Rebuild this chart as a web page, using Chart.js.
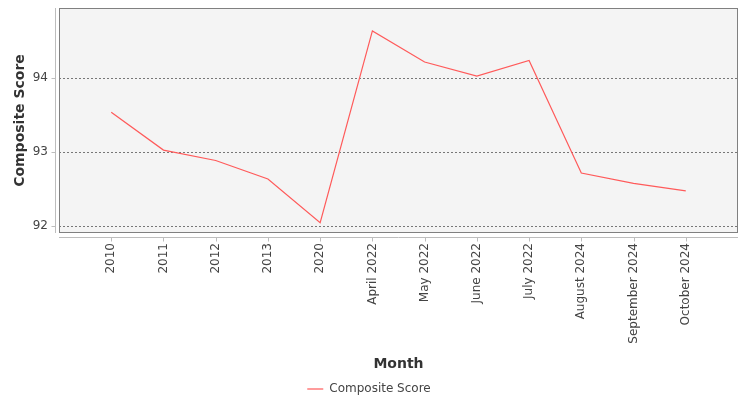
<!DOCTYPE html>
<html>
<head>
<meta charset="utf-8">
<script src="https://cdn.jsdelivr.net/npm/chart.js@4/dist/chart.umd.min.js"></script>
<style>
    html, body { margin: 0; padding: 0; background: #fff; }
    #wrap { width: 750px; height: 400px; }
</style>
</head>
<body>
<div id="wrap"><canvas id="chart"></canvas></div>
<script>
(function () {
    var months = ['2010', '2011', '2012', '2013', '2020', 'April 2022', 'May 2022', 'June 2022',
        'July 2022', 'August 2024', 'September 2024', 'October 2024'];
    var scores = [93.54, 93.03, 92.89, 92.64, 92.05, 94.64, 94.22, 94.03, 94.24, 92.72, 92.58, 92.48];
    var yTicks = [92, 93, 94];

    var fontFamily = "'DejaVu Sans', sans-serif";
    var lineColor = '#ff5a5a';
    var axisColor = '#bdbdbd';
    var plotBottom = 233;
    var bottomPad = -5;

    Chart.defaults.font.family = fontFamily;
    Chart.defaults.color = '#444';

    // plot background, frame and the detached axis lines
    var framePlugin = {
        id: 'frame',
        beforeDraw: function (chart) {
            var a = chart.chartArea;
            var ctx = chart.ctx;
            ctx.save();
            ctx.fillStyle = '#f4f4f4';
            ctx.fillRect(a.left, a.top, a.right - a.left, a.bottom - a.top);
            ctx.restore();
        },
        afterDraw: function (chart) {
            var a = chart.chartArea;
            var ctx = chart.ctx;
            var x = chart.scales.x;
            var y = chart.scales.y;
            ctx.save();
            ctx.lineWidth = 1;
            ctx.strokeStyle = '#808080';
            ctx.strokeRect(a.left + 0.5, a.top + 0.5, a.right - a.left - 1, a.bottom - a.top - 1);

            ctx.strokeStyle = axisColor;
            var ax = Math.round(a.bottom + 4) + 0.5;
            ctx.beginPath();
            ctx.moveTo(a.left, ax);
            ctx.lineTo(a.right, ax);
            months.forEach(function (m, i) {
                var px = Math.round(x.getPixelForValue(i)) + 0.5;
                ctx.moveTo(px, ax);
                ctx.lineTo(px, ax + 4);
            });
            var ay = Math.round(a.left - 4) + 0.5;
            ctx.moveTo(ay, a.top);
            ctx.lineTo(ay, a.bottom);
            yTicks.forEach(function (v) {
                var py = Math.round(y.getPixelForValue(v)) + 0.5;
                ctx.moveTo(ay, py);
                ctx.lineTo(ay - 4, py);
            });
            ctx.stroke();
            ctx.restore();
        }
    };

    new Chart(document.getElementById('chart'), {
        type: 'line',
        data: {
            datasets: [{
                label: 'Composite Score',
                data: scores.map(function (v, i) { return { x: i, y: v }; }),
                borderColor: lineColor,
                backgroundColor: lineColor,
                borderWidth: 1.2,
                pointRadius: 0,
                tension: 0
            }]
        },
        options: {
            responsive: true,
            maintainAspectRatio: false,
            animation: false,
            layout: { padding: { top: 8, right: 12, bottom: bottomPad, left: 0 } },
            plugins: {
                tooltip: { enabled: false },
                legend: {
                    position: 'bottom',
                    labels: {
                        usePointStyle: true,
                        pointStyle: 'line',
                        pointStyleWidth: 16,
                        boxWidth: 16,
                        color: '#444',
                        font: { size: 12 },
                        padding: 5
                    }
                }
            },
            scales: {
                x: {
                    type: 'linear',
                    min: -1,
                    max: 12,
                    afterBuildTicks: function (axis) {
                        axis.ticks = months.map(function (m, i) { return { value: i }; });
                    },
                    afterFit: function (scale) {
                        scale.height = scale.chart.height - bottomPad - scale.chart.legend.height - plotBottom;
                        scale.paddingLeft = 0;
                        scale.paddingRight = 0;
                    },
                    ticks: {
                        autoSkip: false,
                        maxRotation: 90,
                        minRotation: 90,
                        padding: 10,
                        color: '#444',
                        font: { size: 12 },
                        callback: function (value) { return months[value]; }
                    },
                    grid: { display: false, drawTicks: false },
                    border: { display: false },
                    title: {
                        display: true,
                        text: 'Month',
                        color: '#333',
                        font: { size: 14, weight: 'bold' },
                        padding: { top: 4, bottom: 5 }
                    }
                },
                y: {
                    min: 91.91,
                    max: 94.95,
                    afterBuildTicks: function (axis) {
                        axis.ticks = yTicks.map(function (v) { return { value: v }; });
                    },
                    afterFit: function (scale) {
                        scale.width = 59;
                        scale.paddingTop = 0;
                        scale.paddingBottom = 0;
                    },
                    ticks: {
                        padding: 11,
                        color: '#444',
                        font: { size: 12 }
                    },
                    grid: { color: '#777', lineWidth: 1, drawTicks: false },
                    border: { display: false, dash: [2, 2] },
                    title: {
                        display: true,
                        text: 'Composite Score',
                        color: '#333',
                        font: { size: 14, weight: 'bold' },
                        padding: { top: 12, bottom: 4 }
                    }
                }
            }
        },
        plugins: [framePlugin]
    });
}());
</script>
</body>
</html>
